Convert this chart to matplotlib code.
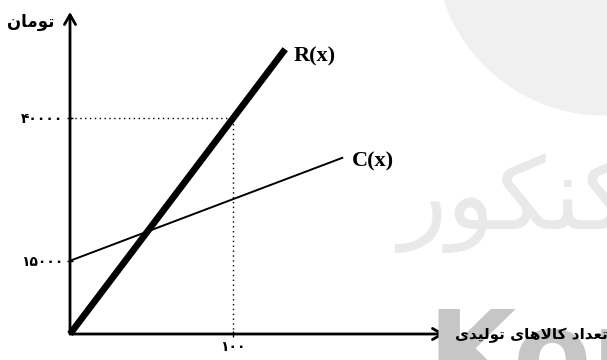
import matplotlib.pyplot as plt
import matplotlib.patches as mpatches

# values (schematic, y axis not drawn from zero)
R_x = [0, 132]
R_y = [2200, 52000]
C_x = [0, 167]
C_y = [15000, 33000]
x_mark = 100
y_marks = [15000, 40000]
x_lab = ['\u06f1\u06f0\u06f0']                      # ۱۰۰
y_lab = ['\u06f1\u06f5\u06f0\u06f0\u06f0', '\u06f4\u06f0\u06f0\u06f0\u06f0']

# persian text, already in shaped / visual order
ylabel = '\ufee5\ufe8e\ufee3\ufeee\ufe97'            # تومان
xlabel = ('\ufbfc\ufeaa\ufbff\ufedf\ufeee\ufe97' + ' '
          + '\ufbfc\ufe8e\ufeeb\ufefb\ufe8e\ufb90' + ' '
          + '\ufea9\ufe8d\ufeaa\ufecc\ufe97')       # تعداد کالاهای تولیدی
wm_text = '\ufead\ufeee\ufb91\ufee8\ufb90'           # کنکور

W, H = 607, 360
fig = plt.figure(figsize=(W/100, H/100), dpi=100)

# watermark
fig.patches.append(mpatches.Ellipse((605/W, 1+55/H), 2*170/W, 2*170/H,
                                    transform=fig.transFigure, color='#f0f0f0', zorder=0))
fig.text(398/W, 1-203/H, wm_text, fontsize=72, color='#e9e9e9', family='DejaVu Sans',
         va='center', ha='left', zorder=0)
fig.text(428/W, 1-392/H, 'Kon', fontsize=82, color='#c6c6c6', family='DejaVu Sans',
         weight='bold', va='baseline', ha='left', zorder=0)

ax = fig.add_axes([70/W, 26/H, 375/W, 322/H])
ax.patch.set_alpha(0)
ax.set_xlim(0, 230)
ax.set_ylim(2200, 58500)
for s in ax.spines.values():
    s.set_visible(False)

arrow = dict(arrowstyle='->,head_length=0.7,head_width=0.4', lw=2, color='black',
             shrinkA=0, shrinkB=0)
ax.annotate('', xy=(1, 0), xytext=(0, 0), xycoords='axes fraction', arrowprops=arrow)
ax.annotate('', xy=(0, 1), xytext=(0, 0), xycoords='axes fraction', arrowprops=arrow)

ax.plot(R_x, R_y, color='black', lw=4.8, solid_capstyle='butt', clip_on=False)
ax.plot(C_x, C_y, color='black', lw=1.4, clip_on=False)
ax.plot([0, x_mark], [y_marks[1], y_marks[1]], color='black', lw=1, ls=(0, (1, 2.5)))
ax.plot([x_mark, x_mark], [2200, y_marks[1]], color='black', lw=1, ls=(0, (1, 2.5)))

ax.set_xticks([x_mark], x_lab, family='DejaVu Sans', weight='bold', fontsize=10)
ax.set_yticks(y_marks, y_lab, family='DejaVu Sans', weight='bold', fontsize=10)
ax.tick_params(direction='inout', length=5, width=1, pad=2)

ax.text(137, 50660, 'R(x)', family='Liberation Serif', weight='bold', fontsize=16,
        va='center', ha='left')
ax.text(173, 32300, 'C(x)', family='Liberation Serif', weight='bold', fontsize=16,
        va='center', ha='left')

fig.text(54/W, 1-22/H, ylabel, family='DejaVu Sans', weight='bold', fontsize=12,
         ha='right', va='center')
fig.text(455/W, 1-335/H, xlabel, family='DejaVu Sans', weight='bold', fontsize=11,
         ha='left', va='center')

fig.savefig('out.png', dpi=100)
